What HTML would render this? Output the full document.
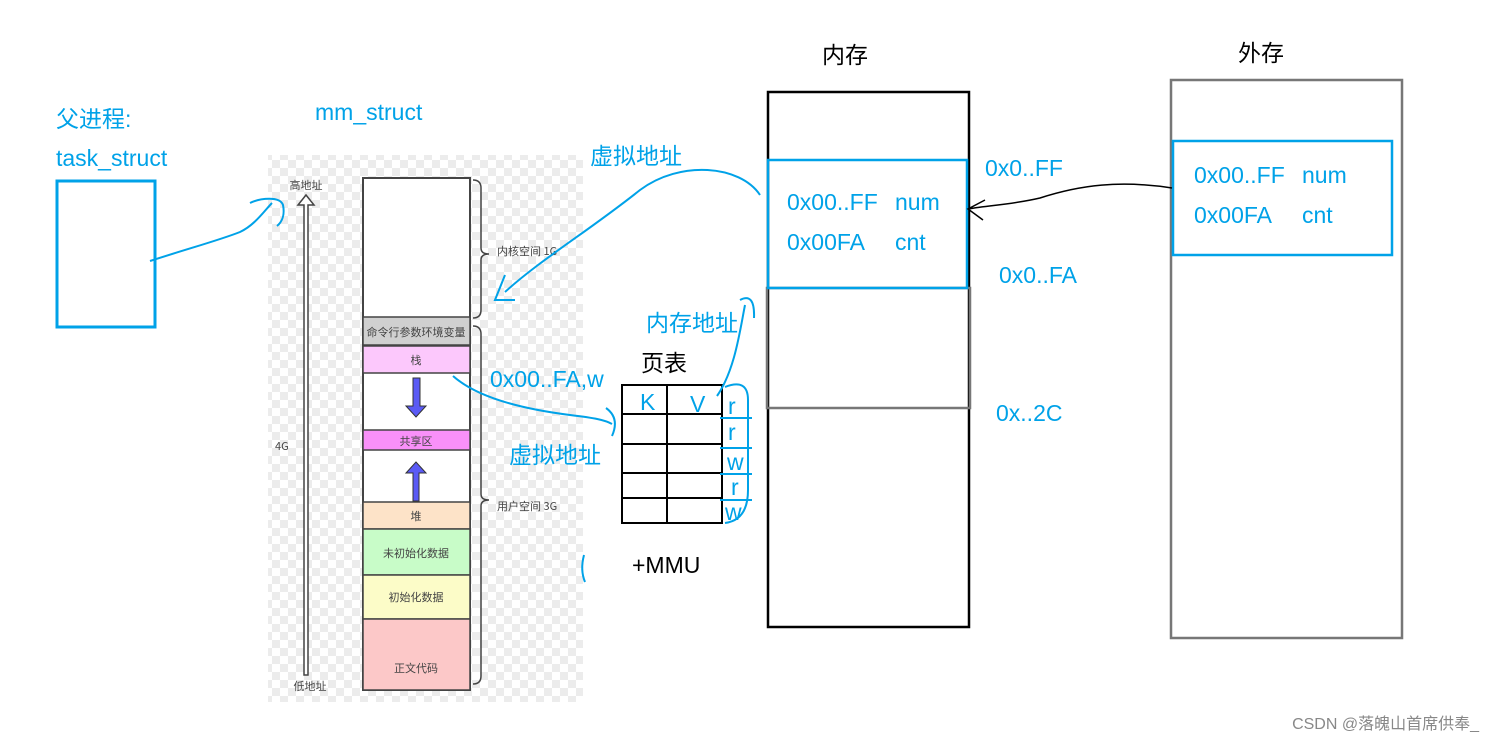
<!DOCTYPE html>
<html><head><meta charset="utf-8"><style>
body{margin:0;width:1491px;height:741px;background:#fff;overflow:hidden}
svg{display:block}
.b{fill:#00a2e8;font-family:"Liberation Sans","Noto Sans CJK SC",sans-serif;font-size:23px}
.k{fill:#000;font-family:"Liberation Sans","Noto Sans CJK SC",sans-serif;font-size:23px}
.s{fill:#444;font-family:"Noto Sans CJK SC",sans-serif;font-size:11px}
.bl{fill:none;stroke:#00a2e8;stroke-width:2}
</style></head><body>
<svg width="1491" height="741" viewBox="0 0 1491 741">
<defs><pattern id="ck" width="16" height="16" patternUnits="userSpaceOnUse"><rect width="16" height="16" fill="#fff"/><rect width="8" height="8" fill="#ececec"/><rect x="8" y="8" width="8" height="8" fill="#ececec"/></pattern></defs>
<rect x="268" y="155" width="315" height="547" fill="url(#ck)"/>
<rect x="363" y="178" width="107" height="512" fill="#fff" stroke="#444" stroke-width="2"/>
<rect x="363" y="317" width="107" height="28" fill="#d0d0d0" stroke="#444" stroke-width="1.5"/>
<rect x="363" y="346" width="107" height="27" fill="#fcc8fc" stroke="#444" stroke-width="1.5"/>
<rect x="363" y="430" width="107" height="20" fill="#f990f9" stroke="#444" stroke-width="1.5"/>
<rect x="363" y="502" width="107" height="27" fill="#fde3c8" stroke="#444" stroke-width="1.5"/>
<rect x="363" y="529" width="107" height="46" fill="#c8fcc8" stroke="#444" stroke-width="1.5"/>
<rect x="363" y="575" width="107" height="44" fill="#fcfcc8" stroke="#444" stroke-width="1.5"/>
<rect x="363" y="619" width="107" height="71" fill="#fcc8c8" stroke="#444" stroke-width="1.5"/>
<text x="416" y="336" class="s" text-anchor="middle">命令行参数环境变量</text>
<text x="416" y="364" class="s" text-anchor="middle">栈</text>
<text x="416" y="445" class="s" text-anchor="middle">共享区</text>
<text x="416" y="538" class="s" text-anchor="middle" dy="-18">堆</text>
<text x="416" y="557" class="s" text-anchor="middle">未初始化数据</text>
<text x="416" y="601" class="s" text-anchor="middle">初始化数据</text>
<text x="416" y="672" class="s" text-anchor="middle">正文代码</text>
<path d="M413 378 h7 v28 h6 l-10 11 l-10 -11 h7z" fill="#5a5af5" stroke="#333"/>
<path d="M413 501 v-28 h-7 l10 -11 l10 11 h-7 v28z" fill="#5a5af5" stroke="#333"/>
<path d="M304 675 v-470 h-6 l8 -10 l8 10 h-6 v470z" fill="#fff" stroke="#444" stroke-width="1.5"/>
<text x="306" y="189" class="s" text-anchor="middle">高地址</text>
<text x="310" y="690" class="s" text-anchor="middle">低地址</text>
<text x="275" y="450" class="s">4G</text>
<path d="M473 180 q8 0 8 8 v60 q0 6 8 6 q-8 0 -8 6 v50 q0 8 -8 8" fill="none" stroke="#444" stroke-width="1.5"/>
<path d="M473 326 q8 0 8 8 v160 q0 6 8 6 q-8 0 -8 6 v170 q0 8 -8 8" fill="none" stroke="#444" stroke-width="1.5"/>
<text x="497" y="255" class="s">内核空间 1G</text>
<text x="497" y="510" class="s">用户空间 3G</text>
<text x="56" y="127" class="b">父进程:</text>
<text x="56" y="166" class="b">task_struct</text>
<rect x="57" y="181" width="98" height="146" fill="none" stroke="#00a2e8" stroke-width="3"/>
<text x="315" y="120" class="b">mm_struct</text>
<path class="bl" d="M150 261 C190 248 220 240 240 232 C255 225 265 210 272 203 M250 203 C260 198 280 196 283 205 C285 215 282 222 277 226"/>
<text x="641" y="371" class="k">页表</text>
<rect x="622" y="385" width="100" height="138" fill="none" stroke="#000" stroke-width="2"/>
<line x1="667" y1="385" x2="667" y2="523" stroke="#000" stroke-width="2"/>
<g stroke="#000" stroke-width="2"><line x1="622" y1="414" x2="722" y2="414"/><line x1="622" y1="444" x2="722" y2="444"/><line x1="622" y1="473" x2="722" y2="473"/><line x1="622" y1="498" x2="722" y2="498"/></g>
<text x="640" y="410" class="b">K</text><text x="690" y="412" class="b">V</text>
<text x="728" y="414" class="b">r</text><text x="728" y="440" class="b">r</text><text x="727" y="470" class="b">w</text><text x="731" y="495" class="b">r</text><text x="725" y="520" class="b">w</text>
<path class="bl" d="M725 387 Q748 378 748 400 V490 Q748 520 725 523 M720 418 H752 M720 448 H752 M720 474 H752 M720 500 H752"/>
<text x="632" y="573" class="k">+MMU</text>
<text x="490" y="387" class="b">0x00..FA,w</text>
<text x="509" y="463" class="b">虚拟地址</text>
<text x="646" y="331" class="b">内存地址</text>
<text x="590" y="164" class="b">虚拟地址</text>
<path class="bl" d="M453 376 C480 400 530 410 570 415 C595 418 605 420 612 424 M606 408 Q620 418 612 436"/>
<path class="bl" d="M717 396 C735 370 740 330 745 305 M740 300 Q755 292 754 318"/>
<path class="bl" d="M760 195 C740 165 680 160 640 190 C590 230 540 260 505 292 M505 275 L495 300 L515 300"/>
<path class="bl" d="M584 555 Q580 570 585 582"/>
<text x="822" y="63" class="k">内存</text>
<rect x="768" y="92" width="201" height="535" fill="none" stroke="#000" stroke-width="2.5"/>
<rect x="767" y="288" width="203" height="120" fill="none" stroke="#777" stroke-width="2.5"/>
<rect x="768" y="160" width="199" height="128" fill="none" stroke="#00a2e8" stroke-width="2.5"/>
<text x="787" y="210" class="b">0x00..FF</text><text x="895" y="210" class="b">num</text>
<text x="787" y="250" class="b">0x00FA</text><text x="895" y="250" class="b">cnt</text>
<text x="985" y="176" class="b">0x0..FF</text>
<text x="999" y="283" class="b">0x0..FA</text>
<text x="996" y="421" class="b">0x..2C</text>
<text x="1238" y="61" class="k">外存</text>
<rect x="1171" y="80" width="231" height="558" fill="none" stroke="#777" stroke-width="2.5"/>
<rect x="1173" y="141" width="219" height="114" fill="none" stroke="#00a2e8" stroke-width="2.5"/>
<text x="1194" y="183" class="b">0x00..FF</text><text x="1302" y="183" class="b">num</text>
<text x="1194" y="223" class="b">0x00FA</text><text x="1302" y="223" class="b">cnt</text>
<path d="M1172 188 C1120 180 1080 185 1040 198 C1010 205 990 205 968 209 M985 200 L968 209 L983 220" fill="none" stroke="#000" stroke-width="1.5"/>
<text x="1479" y="729" fill="#888" font-family="Liberation Sans,Noto Sans CJK SC,sans-serif" font-size="16" text-anchor="end">CSDN @落魄山首席供奉_</text>
</svg>
</body></html>
